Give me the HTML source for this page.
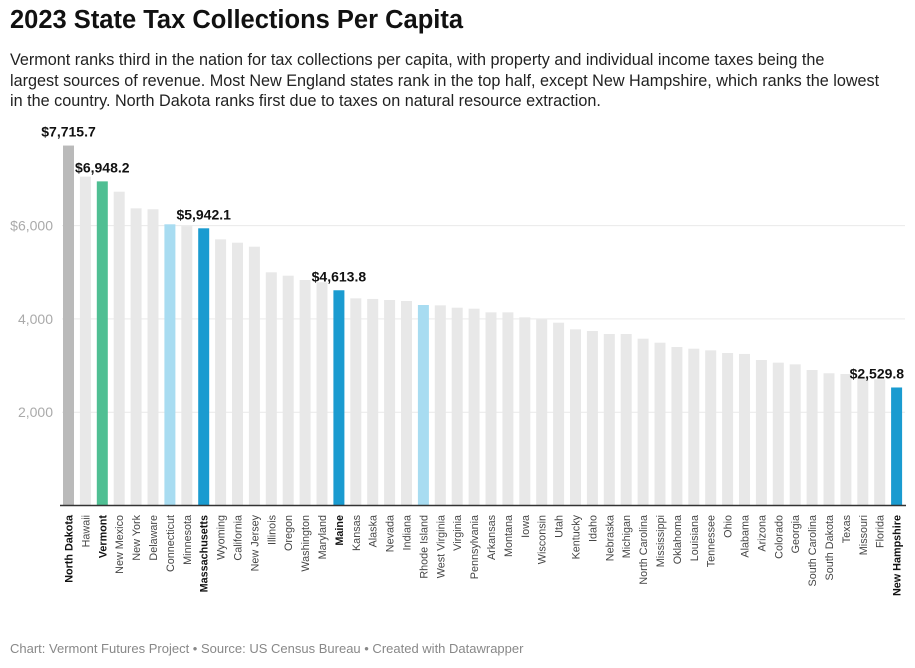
<!DOCTYPE html>
<html><head><meta charset="utf-8"><style>
html,body{margin:0;padding:0;background:#fff;width:915px;height:668px;overflow:hidden;font-family:"Liberation Sans",sans-serif;}
#title{position:absolute;left:10px;top:6px;font-size:25.5px;font-weight:bold;color:#111;white-space:nowrap;}
#sub{position:absolute;left:10px;top:50px;width:910px;font-size:16.2px;line-height:20.5px;color:#222;white-space:nowrap;}
#foot{position:absolute;left:10px;top:641px;font-size:13px;color:#888;}
svg{position:absolute;left:0;top:0;}
</style></head><body>
<div id="title">2023 State Tax Collections Per Capita</div>
<div id="sub">Vermont ranks third in the nation for tax collections per capita, with property and individual income taxes being the<br>largest sources of revenue. Most New England states rank in the top half, except New Hampshire, which ranks the lowest<br>in the country. North Dakota ranks first due to taxes on natural resource extraction.</div>
<svg id="chart" width="915" height="668"></svg>
<div id="foot">Chart: Vermont Futures Project • Source: US Census Bureau • Created with Datawrapper</div>
<script>
const states = ["North Dakota","Hawaii","Vermont","New Mexico","New York","Delaware","Connecticut","Minnesota","Massachusetts","Wyoming","California","New Jersey","Illinois","Oregon","Washington","Maryland","Maine","Kansas","Alaska","Nevada","Indiana","Rhode Island","West Virginia","Virginia","Pennsylvania","Arkansas","Montana","Iowa","Wisconsin","Utah","Kentucky","Idaho","Nebraska","Michigan","North Carolina","Mississippi","Oklahoma","Louisiana","Tennessee","Ohio","Alabama","Arizona","Colorado","Georgia","South Carolina","South Dakota","Texas","Missouri","Florida","New Hampshire"];
const values = [7715.7,7050,6948.2,6727,6370,6350,6028,5990,5942.1,5706,5634,5548,4999,4926,4834,4785,4613.8,4441,4427,4405,4384,4298,4291,4240,4218,4141,4141,4034,3991,3919,3776,3740,3676,3676,3576,3490,3398,3361,3326,3269,3248,3119,3062,3026,2905,2834,2819,2761,2705,2529.8];
const colors = {"North Dakota":"#bababa","Vermont":"#4fbf93","Connecticut":"#a8dcf1","Rhode Island":"#a8dcf1","Massachusetts":"#1a9bd0","Maine":"#1a9bd0","New Hampshire":"#1a9bd0"};
const labeled = {"North Dakota":"$7,715.7","Vermont":"$6,948.2","Massachusetts":"$5,942.1","Maine":"$4,613.8","New Hampshire":"$2,529.8"};
const bold = ["North Dakota","Vermont","Massachusetts","Maine","New Hampshire"];
const ticks = [2000,4000,6000];
const tickLabels = ["2,000","4,000","$6,000"];

const NS="http://www.w3.org/2000/svg";
const svg=document.getElementById('chart');
const y0=505.5, k=0.04665, x0=63, step=16.9, bw=11;
const yS=v=>y0-v*k;
const xS=i=>x0+i*step;
function mk(t,a){const e=document.createElementNS(NS,t);for(const n in a)e.setAttribute(n,a[n]);svg.appendChild(e);return e;}
ticks.forEach((t,i)=>{
  const g=mk('line',{x1:62,x2:905,y1:yS(t),y2:yS(t),stroke:'#e9e9e9','stroke-width':1});
  
  
  const tx=mk('text',{x:53,y:yS(t)+5,'text-anchor':'end','font-size':14,fill:'#aaa'});
  tx.textContent=tickLabels[i];
  
  
});
states.forEach((s,i)=>{
  const v=values[i];
  const r=mk('rect',{x:xS(i),y:yS(v),width:bw,height:y0-yS(v),fill:colors[s]||'#e8e8e8'});
  
  
  const cx=xS(i)+bw/2;
  const lb=mk('text',{transform:`translate(${cx+4},515) rotate(-90)`,'text-anchor':'end','font-size':10.8,fill:bold.includes(s)?'#111':'#444','font-weight':bold.includes(s)?'bold':'normal'});
  lb.textContent=s;
  
  
  if(labeled[s]){
    let ax=cx, anc='middle';
    if(i===states.length-1){ax=xS(i)+bw+2;anc='end';}
    const vl=mk('text',{x:ax,y:yS(v)-9,'text-anchor':anc,'font-size':14,'font-weight':'bold',fill:'#111'});
    vl.textContent=labeled[s];
    
    
  }
});
const ax=mk('line',{x1:60,x2:906,y1:y0,y2:y0,stroke:'#333','stroke-width':1.5});


</script>
</body></html>
